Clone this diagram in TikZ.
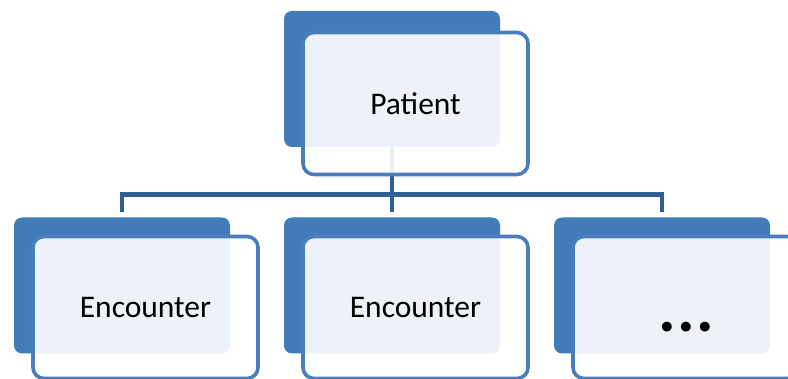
\documentclass[tikz,border=0pt]{standalone}
\usepackage{fontspec}
\setmainfont{Carlito}
\definecolor{backblue}{RGB}{66,123,186}
\definecolor{edgeblue}{RGB}{74,126,187}
\definecolor{connblue}{RGB}{47,95,150}
\begin{document}
\begin{tikzpicture}[x=1pt,y=-1pt,
  backbox/.style={draw=none,fill=backblue,rounded corners=8pt,inner sep=0pt,
    minimum width=216pt,minimum height=136pt},
  frontbox/.style={draw=edgeblue,line width=3.6pt,fill=white,fill opacity=0.9,text opacity=1,
    rounded corners=11pt,inner sep=0pt,minimum width=225pt,minimum height=142pt,
    font=\fontsize{31.5}{37}\selectfont},
  conn/.style={draw=connblue,line width=4.5pt,line join=miter}]
\useasboundingbox (0,0) rectangle (788,379);
\begin{scope}
\clip (0,0) rectangle (788,379);
% back boxes
\node[backbox] (pb) at (392,79) {};
\node[backbox] (e1b) at (122,285.5) {};
\node[backbox] (e2b) at (392,285.5) {};
\node[backbox] (e3b) at (662,285.5) {};
% connectors
\coordinate (hj) at (392,194.5);
\draw[conn] (pb.south) -- ([yshift=5pt]e2b.north);
\draw[conn] ([yshift=5pt]e1b.north) -- (e1b.north |- hj) -- (e3b.north |- hj) -- ([yshift=5pt]e3b.north);
% front boxes
\node[frontbox] (pf) at (415.5,103.5) {Patient};
\node[frontbox] (e1f) at (145.5,307.5) {Encounter};
\node[frontbox] (e2f) at (415.5,307.5) {Encounter};
\node[frontbox] (e3f) at (685.5,307.5) {};
\node[font=\fontsize{66}{70}\selectfont\bfseries,inner sep=0pt] (dots) at (686,327) {.\kern1.5pt.\kern1.5pt.};
\end{scope}
\end{tikzpicture}
\end{document}
